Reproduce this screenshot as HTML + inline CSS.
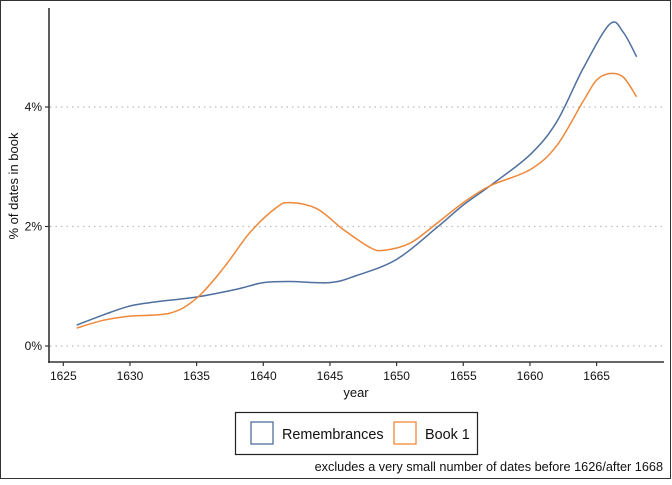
<!DOCTYPE html>
<html><head><meta charset="utf-8"><style>
body{margin:0;background:#fff;font-family:"Liberation Sans",sans-serif}
svg text{font-family:"Liberation Sans",sans-serif}
</style></head><body>
<svg id="chart" width="672" height="480" xmlns="http://www.w3.org/2000/svg">
<rect x="0.5" y="0.5" width="670" height="478" fill="#fff" stroke="#333" stroke-width="1"/>
<g id="grid"></g><g id="axes"></g><g id="series"></g>
<text x="356" y="397" font-size="13" text-anchor="middle" fill="#111">year</text>
<text transform="translate(18,186) rotate(-90)" font-size="13" text-anchor="middle" fill="#111">% of dates in book</text>
<g>
<rect x="235.5" y="412.5" width="242" height="42" fill="#fff" stroke="#222" stroke-width="1.2"/>
<rect x="251" y="422" width="22" height="22" fill="none" stroke="#4e6f9f" stroke-width="1.3"/>
<text x="282" y="439" font-size="14.4" fill="#111">Remembrances</text>
<rect x="394" y="422" width="22" height="22" fill="none" stroke="#f0883a" stroke-width="1.3"/>
<text x="425" y="439" font-size="14.4" fill="#111">Book 1</text>
</g>
<text x="663" y="471" font-size="12.7" text-anchor="end" fill="#111">excludes a very small number of dates before 1626/after 1668</text>
</svg>
<script>
const xTicks=[1625,1630,1635,1640,1645,1650,1655,1660,1665];
const yTicks=[0,2,4];
const yTickLabels=["0%","2%","4%"];
const remYears=[1626,1628,1630,1632,1635,1638,1640,1642,1645,1647,1650,1653,1655,1657,1660,1662,1664,1666,1667,1668];
const remValues=[0.35,0.52,0.67,0.74,0.82,0.95,1.06,1.08,1.06,1.18,1.45,1.98,2.36,2.68,3.2,3.75,4.65,5.39,5.25,4.84];
const bookYears=[1626,1628,1630,1633,1635,1637,1639,1641,1642,1644,1646,1648,1649,1651,1653,1655,1657,1660,1662,1664,1665,1666,1667,1668];
const bookValues=[0.3,0.43,0.5,0.55,0.8,1.3,1.9,2.32,2.4,2.3,1.95,1.65,1.6,1.72,2.05,2.4,2.68,2.95,3.35,4.1,4.45,4.56,4.5,4.17];
const NS="http://www.w3.org/2000/svg";
const x=v=>63.3+(v-1625)*13.333;
const y=v=>346-v*59.75;
function mk(t,a,p){const e=document.createElementNS(NS,t);for(const k in a)e.setAttribute(k,a[k]);p.appendChild(e);return e;}
const grid=document.getElementById('grid'),axes=document.getElementById('axes'),ser=document.getElementById('series');
yTicks.forEach((t,i)=>{
 const g=mk('line',{x1:50,x2:664,y1:y(t),y2:y(t),stroke:'#bbb','stroke-dasharray':'1.5,4','stroke-width':1.2},grid);
 
 
 const tk=mk('line',{x1:45,x2:49,y1:y(t),y2:y(t),stroke:'#333','stroke-width':1.2},axes);
 
 
 const l=mk('text',{x:42,y:y(t)+4,'font-size':12,'text-anchor':'end',fill:'#111'},axes);
 l.textContent=yTickLabels[i];
 
 
});
const ya=mk('line',{x1:49,x2:49,y1:8,y2:363,stroke:'#333','stroke-width':1.6},axes);


const xa=mk('line',{x1:48,x2:664,y1:362,y2:362,stroke:'#333','stroke-width':1.6},axes);


xTicks.forEach(t=>{
 const tk=mk('line',{x1:x(t),x2:x(t),y1:362,y2:366,stroke:'#333','stroke-width':1.2},axes);
 
 
 const l=mk('text',{x:x(t),y:380,'font-size':12,'text-anchor':'middle',fill:'#111'},axes);
 l.textContent=t;
 
 
});
function path(xs,vs){
 const p=xs.map((t,i)=>[x(t),y(vs[i])]);
 let d='M'+p[0][0]+','+p[0][1];
 for(let i=0;i<p.length-1;i++){
  const p0=p[Math.max(0,i-1)],p1=p[i],p2=p[i+1],p3=p[Math.min(p.length-1,i+2)];
  const c1=[p1[0]+(p2[0]-p0[0])/6,p1[1]+(p2[1]-p0[1])/6];
  const c2=[p2[0]-(p3[0]-p1[0])/6,p2[1]-(p3[1]-p1[1])/6];
  d+=' C'+c1+' '+c2+' '+p2;
 }
 return d;
}
const s1=mk('path',{d:path(remYears,remValues),fill:'none',stroke:'#4e6f9f','stroke-width':1.5},ser);


const s2=mk('path',{d:path(bookYears,bookValues),fill:'none',stroke:'#f0883a','stroke-width':1.5},ser);


</script>
</body></html>
